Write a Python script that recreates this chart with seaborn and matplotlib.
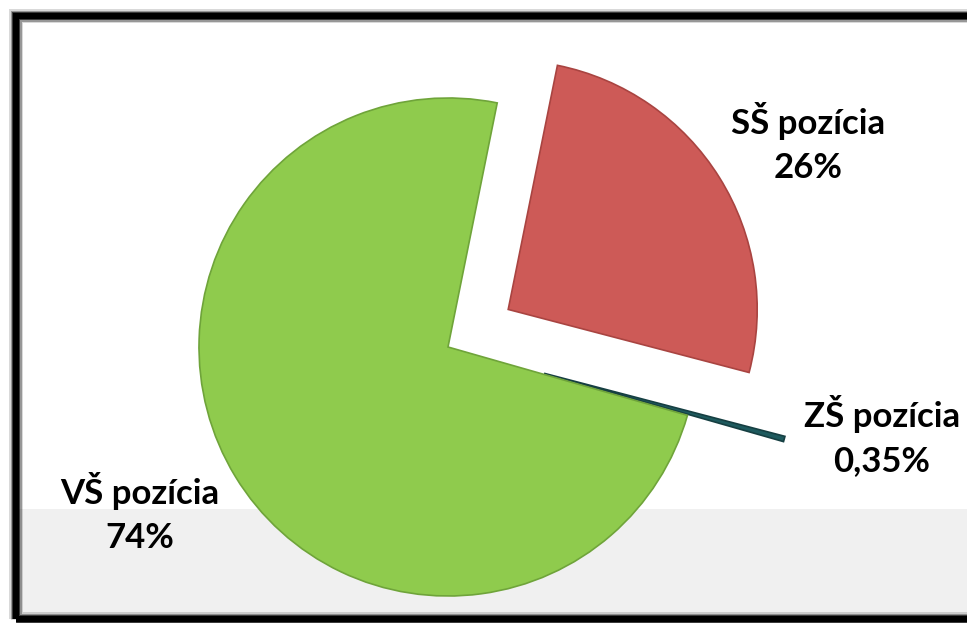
import matplotlib
import matplotlib.pyplot as plt
import seaborn as sns
from matplotlib.patches import Rectangle

matplotlib.use('Agg')

# data
categories = ["SŠ pozícia", "ZŠ pozícia", "VŠ pozícia"]
shares = [26, 0.35, 74]
share_labels = ["26%", "0,35%", "74%"]

slice_colors = ["#cd5a57", "#1e5a5e", "#8fcb4d"]
edge_colors = ["#a94441", "#163f42", "#6fa43a"]
explode = [0.285, 0.40, 0.0]
# label centres in pixels (x from left, y from top)
label_px = [(808, 143), (882, 436), (140, 513)]

sns.set_theme(style="white")
plt.rcParams['font.family'] = ['Lato', 'DejaVu Sans']

W, H = 967, 623
R = 249.0
cx, cy = 448.0, H - 347.0

fig = plt.figure(figsize=(W / 100, H / 100), dpi=100)
fig.patch.set_facecolor("white")
ax = fig.add_axes([0, 0, 1, 1])
ax.patch.set_alpha(0)

# grey band at the bottom and the black frame with a soft edge
ax.add_patch(Rectangle((18 / W, 8 / H), 1, 106 / H, transform=fig.transFigure,
                       facecolor="#f0f0f0", edgecolor="none", zorder=0, clip_on=False))
for lw, a in [(14, 0.15), (11, 0.3), (8, 0.6), (6, 1.0)]:
    ax.add_patch(Rectangle((16 / W, 4 / H), 1.2, 603 / H, transform=fig.transFigure,
                           facecolor="none", edgecolor="black", lw=lw * 0.72,
                           alpha=a, zorder=10, clip_on=False))

wedges, _ = ax.pie(shares, colors=slice_colors, explode=explode,
                   startangle=78.6, counterclock=False, radius=1.0,
                   wedgeprops=dict(linewidth=1.2))
for w, ec in zip(wedges, edge_colors):
    w.set_edgecolor(ec)
    w.set_zorder(2)

for c, p, (px, py) in zip(categories, share_labels, label_px):
    ax.text((px - cx) / R, ((H - py) - cy) / R, f"{c}\n{p}",
            ha="center", va="center", multialignment="center", linespacing=1.45,
            fontsize=25, fontweight="bold", color="black", zorder=5)

ax.set_xlim(-cx / R, (W - cx) / R)
ax.set_ylim(-cy / R, (H - cy) / R)
ax.set_aspect("equal")
ax.axis("off")

plt.savefig("out.png", dpi=100, facecolor="white")
